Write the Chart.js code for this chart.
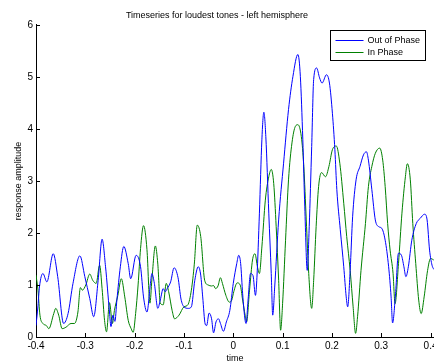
<!DOCTYPE html>
<html>
<head>
<meta charset="utf-8">
<script src="https://cdn.jsdelivr.net/npm/chart.js@4.4.1/dist/chart.umd.min.js"></script>
<style>
  html, body { margin: 0; padding: 0; background: #fff; overflow: hidden; }
  #wrap { width: 434px; height: 364px; position: relative; }
</style>
</head>
<body>
<div id="wrap"><canvas id="c" width="434" height="364"></canvas></div>
<script>
// Time axis (s) and response amplitude for each condition
const outTime = [-0.400,-0.396,-0.393,-0.386,-0.378,-0.365,-0.356,-0.344,-0.335,-0.325,-0.311,-0.301,-0.291,-0.283,-0.274,-0.266,-0.259,-0.251,-0.248,-0.244,-0.240,-0.236,-0.229,-0.222,-0.213,-0.208,-0.197,-0.188,-0.182,-0.175,-0.168,-0.165,-0.160,-0.153,-0.148,-0.142,-0.138,-0.134,-0.127,-0.120,-0.112,-0.106,
  -0.100,-0.091,-0.085,-0.078,-0.071,-0.066,-0.062,-0.057,-0.054,-0.049,-0.044,-0.040,-0.035,-0.030,-0.026,-0.020,-0.014,-0.007,0.000,0.007,0.011,0.015,0.019,0.024,0.026,0.030,0.035,0.040,0.045,0.048,
  0.053,0.058,0.062,0.066,0.072,0.077,0.080,0.084,0.092,0.102,0.112,0.121,0.131,0.136,0.141,0.145,0.150,0.154,0.159,0.163,0.169,0.175,0.180,0.189,0.195,0.201,0.206,0.210,0.217,0.224,0.229,0.232,0.237,0.242,0.249,0.257,0.264,0.270,0.274,0.281,0.288,0.295,0.301,0.308,0.315,0.320,0.323,0.329,0.335,0.341,0.346,0.350,0.355,0.362,0.371,0.379,0.388,0.393,0.398,0.403,0.4065];
const outAmp = [0.22,0.60,0.96,1.22,1.06,1.60,1.16,0.26,0.45,1.03,1.56,1.16,0.74,0.39,1.09,1.88,1.35,0.48,0.20,0.42,0.30,0.71,1.35,1.74,1.41,1.12,1.57,1.35,0.77,0.48,1.03,1.22,1.03,0.55,0.71,0.93,0.87,0.93,1.06,1.33,1.14,0.73,
  0.58,0.55,0.58,1.09,1.35,1.19,0.77,0.25,0.22,0.46,0.35,0.08,0.29,0.35,0.26,0.11,0.29,0.51,1.03,1.41,1.57,1.41,0.83,0.32,0.26,0.71,1.22,1.18,0.80,1.15,
  2.38,3.79,4.32,3.85,2.38,1.22,0.42,0.96,2.25,3.34,4.37,5.01,5.43,5.01,3.79,2.50,1.28,2.12,3.66,4.95,5.17,4.98,4.88,5.04,4.88,4.30,3.60,2.83,2.06,1.35,0.77,0.58,1.28,2.31,3.02,3.28,3.50,3.56,3.40,2.83,2.25,2.12,2.09,1.86,1.35,0.77,0.27,0.83,1.61,1.57,1.35,1.16,1.35,1.86,2.18,2.28,2.36,2.25,1.67,1.38,1.30];

const inTime = [-0.400,-0.396,-0.392,-0.386,-0.379,-0.374,-0.364,-0.360,-0.354,-0.347,-0.339,-0.329,-0.322,-0.315,-0.310,-0.306,-0.299,-0.291,-0.285,-0.278,-0.271,-0.266,-0.261,-0.257,-0.251,-0.245,-0.241,-0.234,-0.227,-0.220,-0.213,-0.207,-0.203,-0.198,-0.193,-0.188,-0.182,-0.175,-0.169,-0.165,-0.158,-0.153,-0.148,-0.142,-0.136,-0.131,-0.124,-0.119,-0.110,
  -0.100,-0.092,-0.085,-0.079,-0.073,-0.066,-0.058,-0.051,-0.044,-0.040,-0.036,-0.031,-0.026,-0.022,-0.015,-0.008,-0.003,0.001,0.008,0.014,0.019,0.024,0.027,0.033,0.039,0.044,0.049,0.053,
  0.058,0.065,0.072,0.077,0.082,0.087,0.092,0.096,0.100,0.106,0.112,0.119,0.126,0.131,0.138,0.143,0.148,0.153,0.159,0.163,0.168,0.173,0.179,0.187,0.194,0.201,0.209,0.216,0.224,0.230,0.237,0.243,0.248,0.252,0.259,0.268,0.274,0.281,0.288,0.297,0.303,0.308,0.313,0.318,0.324,0.328,0.335,0.342,0.349,0.353,0.359,0.364,0.370,0.376,0.381,0.387,0.394,0.400,0.4065];
const inAmp = [1.19,0.90,0.42,0.26,0.22,0.16,0.45,0.55,0.42,0.16,0.19,0.26,0.26,0.48,0.95,0.90,1.00,1.21,1.09,1.03,1.38,0.93,0.32,0.10,0.66,0.26,0.51,0.80,1.12,0.77,0.32,0.16,0.09,0.45,1.00,1.70,2.14,1.68,0.65,1.10,1.75,1.40,0.65,0.62,1.03,0.87,0.51,0.35,0.42,
  0.58,0.62,0.90,1.40,2.15,1.93,1.09,1.00,0.98,0.99,0.93,0.98,1.14,1.03,0.80,0.67,0.71,0.87,1.04,1.00,0.71,0.42,0.29,0.90,1.48,1.60,1.35,1.22,
  1.73,2.63,3.08,3.22,2.95,2.12,1.09,0.13,0.64,1.86,3.02,3.73,4.05,4.08,3.85,3.28,2.25,1.22,0.55,1.09,2.12,2.89,3.16,3.08,3.28,3.60,3.67,3.34,2.57,1.93,1.28,0.58,0.07,0.39,1.28,2.18,2.89,3.28,3.53,3.63,3.40,2.89,2.18,1.67,1.22,0.64,1.41,2.38,3.08,3.33,3.02,2.18,1.41,0.71,0.45,0.77,1.28,1.51,1.48];

const seriesNames = ['Out of Phase', 'In Phase'];
const seriesColors = ['#0000ff', '#008000'];

const xTicks = [-0.4, -0.3, -0.2, -0.1, 0, 0.1, 0.2, 0.3, 0.4];
const xTickLabels = ['-0.4', '-0.3', '-0.2', '-0.1', '0', '0.1', '0.2', '0.3', '0.4'];
const yTicks = [0, 1, 2, 3, 4, 5, 6];
const yTickLabels = ['0', '1', '2', '3', '4', '5', '6'];

const FONT = 'Liberation Sans, Arial, Helvetica, sans-serif';

function pairs(xs, ys) {
  return xs.map((x, i) => ({ x: x, y: ys[i] }));
}

// Short tick marks pointing into the plot, like a classic box-less axes
const innerTicks = {
  id: 'innerTicks',
  afterDraw(chart) {
    const { ctx, chartArea, scales } = chart;
    const len = 4;
    ctx.save();
    ctx.strokeStyle = '#000';
    ctx.lineWidth = 1;
    ctx.beginPath();
    scales.x.ticks.forEach(t => {
      const px = Math.round(scales.x.getPixelForValue(t.value)) + 0.5;
      ctx.moveTo(px, chartArea.bottom);
      ctx.lineTo(px, chartArea.bottom - len);
    });
    scales.y.ticks.forEach(t => {
      const py = Math.round(scales.y.getPixelForValue(t.value)) + 0.5;
      ctx.moveTo(chartArea.left, py);
      ctx.lineTo(chartArea.left + len, py);
    });
    ctx.stroke();
    ctx.restore();
  }
};

// Boxed legend in the upper-right corner of the axes
const boxedLegend = {
  id: 'boxedLegend',
  afterDraw(chart) {
    const { ctx } = chart;
    const x0 = 330.5, y0 = 30.5, w = 95, h = 30;
    ctx.save();
    ctx.fillStyle = '#fff';
    ctx.fillRect(x0, y0, w, h);
    ctx.strokeStyle = '#000';
    ctx.lineWidth = 1;
    ctx.strokeRect(x0, y0, w, h);
    ctx.font = '9px ' + FONT;
    ctx.textBaseline = 'middle';
    ctx.textAlign = 'left';
    chart.data.datasets.forEach((ds, i) => {
      const ly = Math.round(y0 + 9 + i * 12.5) + 0.5;
      ctx.strokeStyle = ds.borderColor;
      ctx.beginPath();
      ctx.moveTo(x0 + 5, ly);
      ctx.lineTo(x0 + 33, ly);
      ctx.stroke();
      ctx.fillStyle = '#000';
      ctx.fillText(ds.label, x0 + 37, ly + 0.5);
    });
    ctx.restore();
  }
};

new Chart(document.getElementById('c'), {
  type: 'line',
  data: {
    datasets: [
      { label: seriesNames[0], data: pairs(outTime, outAmp), borderColor: seriesColors[0] },
      { label: seriesNames[1], data: pairs(inTime, inAmp), borderColor: seriesColors[1] }
    ]
  },
  options: {
    responsive: false,
    animation: false,
    devicePixelRatio: 1,
    layout: { padding: 0 },
    elements: {
      point: { radius: 0 },
      line: { borderWidth: 1, cubicInterpolationMode: 'monotone', fill: false }
    },
    plugins: {
      legend: { display: false },
      tooltip: { enabled: false },
      title: {
        display: true,
        text: 'Timeseries for loudest tones - left hemisphere',
        color: '#000',
        font: { family: FONT, size: 9, weight: 'normal' },
        padding: { top: 10, bottom: 4 }
      }
    },
    scales: {
      x: {
        type: 'linear',
        min: -0.4,
        max: 0.407,
        grid: { display: false, drawTicks: false },
        border: { display: true, color: '#000', width: 1 },
        afterBuildTicks(scale) { scale.ticks = xTicks.map(v => ({ value: v })); },
        afterFit(scale) { scale.height = 27; scale.paddingLeft = 0; scale.paddingRight = 0; },
        ticks: {
          color: '#000',
          padding: 3,
          maxRotation: 0,
          autoSkip: false,
          font: { family: FONT, size: 10 },
          callback: (v, i) => xTickLabels[i]
        },
        title: {
          display: true,
          text: 'time',
          color: '#000',
          font: { family: FONT, size: 9 },
          padding: { top: 0, bottom: 0 }
        }
      },
      y: {
        type: 'linear',
        min: 0,
        max: 6,
        grid: { display: false, drawTicks: false },
        border: { display: true, color: '#000', width: 1 },
        afterBuildTicks(scale) { scale.ticks = yTicks.map(v => ({ value: v })); },
        afterFit(scale) { scale.width = 36; },
        ticks: {
          color: '#000',
          padding: 3,
          autoSkip: false,
          font: { family: FONT, size: 10 },
          callback: (v, i) => yTickLabels[i]
        },
        title: {
          display: true,
          text: 'response amplitude',
          color: '#000',
          font: { family: FONT, size: 9 },
          padding: { top: 13, bottom: 0 }
        }
      }
    }
  },
  plugins: [innerTicks, boxedLegend]
});
</script>
</body>
</html>
